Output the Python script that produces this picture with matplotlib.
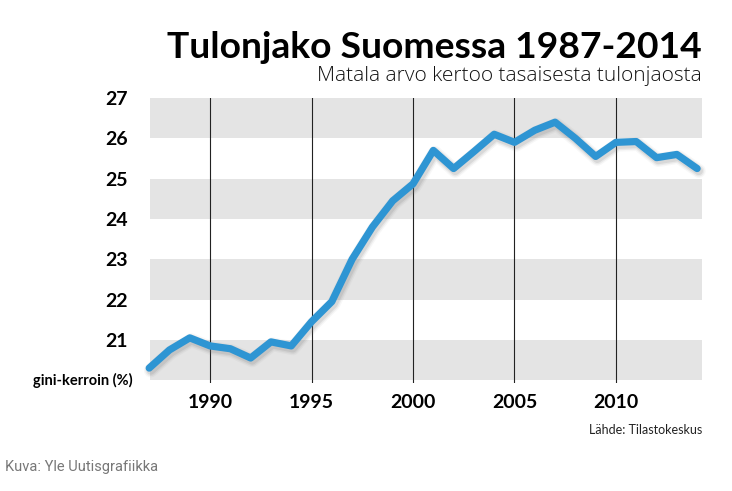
import numpy as np
import matplotlib
matplotlib.use('Agg')
import matplotlib.pyplot as plt

years = list(range(1987, 2015))
gini = [20.3, 20.75, 21.05, 20.85, 20.78, 20.55, 20.95, 20.85, 21.45, 21.95,
        23.0, 23.8, 24.45, 24.87, 25.7, 25.25, 25.67, 26.1, 25.9, 26.2,
        26.4, 26.0, 25.55, 25.9, 25.92, 25.52, 25.6, 25.25]
yticks = [21, 22, 23, 24, 25, 26, 27]
xticks = [1990, 1995, 2000, 2005, 2010]

fig = plt.figure(figsize=(7.32, 4.91), dpi=100)
ax = fig.add_axes([150 / 732, 1 - 383 / 491, 552 / 732, 285 / 491])

ax.set_xlim(1987.04, 2014.24)
ax.set_ylim(19.93, 27)

# grey bands
for lo in [20, 22, 24, 26]:
    ax.axhspan(lo, lo + 1, color='#e4e4e4', lw=0, zorder=0)
for x in xticks:
    ax.axvline(x, color='#222222', lw=0.8, zorder=1)

# blurred shadow
for w, a in [(10, 0.06), (8, 0.1), (6, 0.15)]:
    ax.plot(np.array(years) + 0.08, np.array(gini) - 0.06, color='#777777',
            lw=w, alpha=a, solid_capstyle='round', solid_joinstyle='round',
            zorder=2, clip_on=False)
ax.plot(years, gini, color='#2e95d3', lw=5.2, solid_capstyle='round',
        solid_joinstyle='round', zorder=3, clip_on=False)

for s in ax.spines.values():
    s.set_visible(False)
ax.set_xticks(xticks)
ax.set_yticks(yticks)
ax.tick_params(length=0)
ax.set_xticklabels([str(t) for t in xticks], fontsize=14, fontweight='bold',
                   family='Lato')
ax.set_yticklabels([str(t) for t in yticks], fontsize=14, fontweight='bold',
                   family='Lato')
ax.tick_params(axis='x', pad=8)
ax.tick_params(axis='y', pad=16)

fig.text(702 / 732, 1 - 47 / 491, 'Tulonjako Suomessa 1987-2014', ha='right',
         va='center', fontsize=26.8, fontweight='bold', family='Lato')
fig.text(702 / 732, 1 - 76 / 491, 'Matala arvo kertoo tasaisesta tulonjaosta',
         ha='right', va='center', fontsize=15, fontweight='light',
         family='Open Sans', color='#111111')
fig.text(133 / 732, 1 - 380 / 491, 'gini-kerroin (%)', ha='right', va='center',
         fontsize=10.5, fontweight='bold', family='Lato')
fig.text(702 / 732, 1 - 430 / 491, 'Lähde: Tilastokeskus', ha='right',
         va='center', fontsize=9, family='Lato', color='#222222')
fig.text(5 / 732, 1 - 467 / 491, 'Kuva: Yle Uutisgrafiikka', ha='left',
         va='center', fontsize=10.5, family='Roboto', color='#777777')

fig.savefig('out.png', dpi=100)
